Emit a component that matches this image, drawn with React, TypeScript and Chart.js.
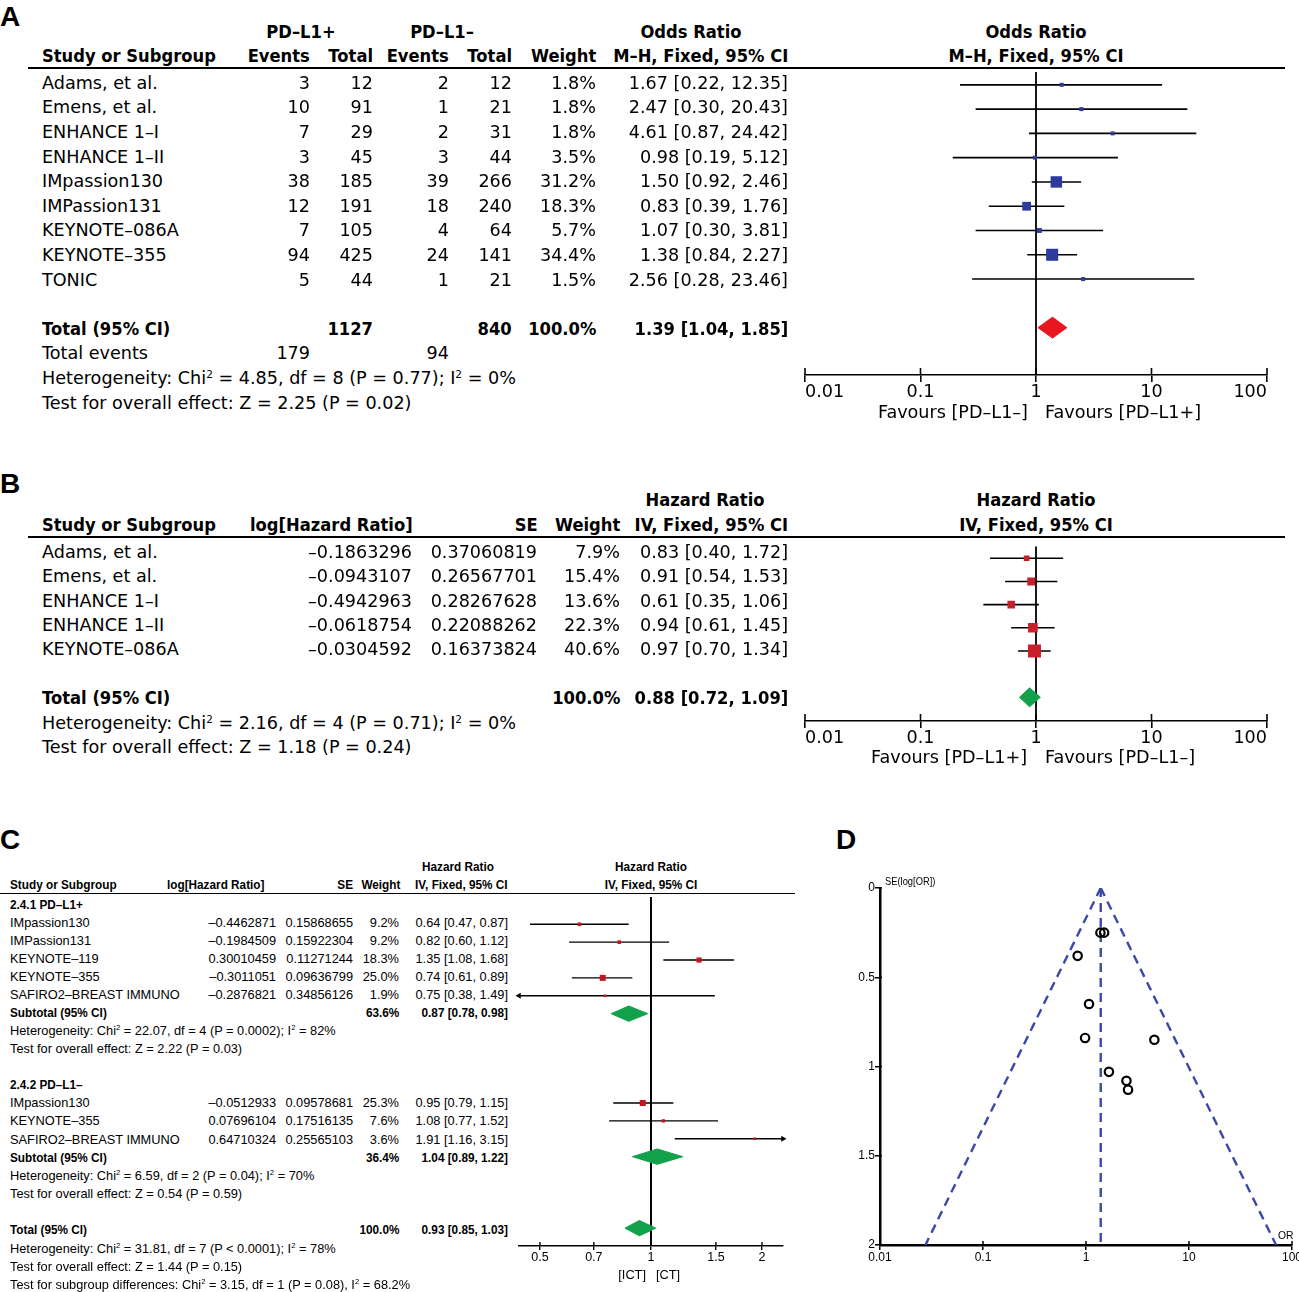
import React, { useEffect, useRef } from 'react';
import { Chart, registerables } from 'chart.js';
Chart.register(...registerables);

// ---------------- Panel A data (PD-L1+ vs PD-L1-, odds ratio) ----------------
const studiesA = ['Adams, et al.', 'Emens, et al.', 'ENHANCE 1–I', 'ENHANCE 1–II', 'IMpassion130', 'IMPassion131', 'KEYNOTE–086A', 'KEYNOTE–355', 'TONIC'];
const eventsPosA = [3, 10, 7, 3, 38, 12, 7, 94, 5];
const totalPosA = [12, 91, 29, 45, 185, 191, 105, 425, 44];
const eventsNegA = [2, 1, 2, 3, 39, 18, 4, 24, 1];
const totalNegA = [12, 21, 31, 44, 266, 240, 64, 141, 21];
const weightA = [1.8, 1.8, 1.8, 3.5, 31.2, 18.3, 5.7, 34.4, 1.5];
const orA = [1.67, 2.47, 4.61, 0.98, 1.5, 0.83, 1.07, 1.38, 2.56];
const loA = [0.22, 0.3, 0.87, 0.19, 0.92, 0.39, 0.3, 0.84, 0.28];
const hiA = [12.35, 20.43, 24.42, 5.12, 2.46, 1.76, 3.81, 2.27, 23.46];
const pooledA = [1.39, 1.04, 1.85];

// ---------------- Panel B data (hazard ratio) ----------------
const studiesB = ['Adams, et al.', 'Emens, et al.', 'ENHANCE 1–I', 'ENHANCE 1–II', 'KEYNOTE–086A'];
const logHrB = [-0.1863296, -0.0943107, -0.4942963, -0.0618754, -0.0304592];
const seB = [0.37060819, 0.26567701, 0.28267628, 0.22088262, 0.16373824];
const weightB = [7.9, 15.4, 13.6, 22.3, 40.6];
const hrB = [0.83, 0.91, 0.61, 0.94, 0.97];
const loB = [0.4, 0.54, 0.35, 0.61, 0.7];
const hiB = [1.72, 1.53, 1.06, 1.45, 1.34];
const pooledB = [0.88, 0.72, 1.09];

// ---------------- Panel C data (subgroups) ----------------
const studiesC1 = ['IMpassion130', 'IMPassion131', 'KEYNOTE–119', 'KEYNOTE–355', 'SAFIRO2–BREAST IMMUNO'];
const logHrC1 = [-0.4462871, -0.1984509, 0.30010459, -0.3011051, -0.2876821];
const seC1 = [0.15868655, 0.15922304, 0.11271244, 0.09636799, 0.34856126];
const weightC1 = [9.2, 9.2, 18.3, 25.0, 1.9];
const hrC1 = [0.64, 0.82, 1.35, 0.74, 0.75];
const loC1 = [0.47, 0.6, 1.08, 0.61, 0.38];
const hiC1 = [0.87, 1.12, 1.68, 0.89, 1.49];
const subC1 = [0.87, 0.78, 0.98];
const subWeightC1 = 63.6;
const studiesC2 = ['IMpassion130', 'KEYNOTE–355', 'SAFIRO2–BREAST IMMUNO'];
const logHrC2 = [-0.0512933, 0.07696104, 0.64710324];
const seC2 = [0.09578681, 0.17516135, 0.25565103];
const weightC2 = [25.3, 7.6, 3.6];
const hrC2 = [0.95, 1.08, 1.91];
const loC2 = [0.79, 0.77, 1.16];
const hiC2 = [1.15, 1.52, 3.15];
const subC2 = [1.04, 0.89, 1.22];
const subWeightC2 = 36.4;
const pooledC = [0.93, 0.85, 1.03];
const ticksC = [0.5, 0.7, 1, 1.5, 2];
const rangeC = [0.4387, 2.28];

// ---------------- Panel D data (funnel plot) ----------------
const funnelOR = [1.67, 2.47, 4.61, 0.98, 1.5, 0.83, 1.07, 1.38, 2.56];
const funnelSE = [1.03, 1.08, 0.85, 0.84, 0.25, 0.38, 0.65, 0.25, 1.13];
const funnelEdges = [0.0276, 70];
const seTicks = [0, 0.5, 1, 1.5, 2];
const orTicks = [0.01, 0.1, 1, 10, 100];

// ---------------- layout helpers ----------------
const W = 1299;
const H = 1292;
type FontSpec = { family: string; size: number; sx: number; bsx: number };
const FA: FontSpec = { family: '"DejaVu Sans", sans-serif', size: 17.6, sx: 1, bsx: 0.93 };
const FC: FontSpec = { family: '"Liberation Sans", Arial, sans-serif', size: 12.8, sx: 1, bsx: 0.92 };
const FL: FontSpec = { family: '"Liberation Sans", Arial, sans-serif', size: 28, sx: 1, bsx: 1 };
const FD: FontSpec = { family: '"Liberation Sans", Arial, sans-serif', size: 11, sx: 0.85, bsx: 1 };

const rowA = (i: number) => 81 + 24.6 * i;
const rowB = (i: number) => 549.7 + 24.4 * i;
const rowC = (i: number) => 902.5 + 18.08 * i;

const f2 = (v: number) => v.toFixed(2);
const ciTxt = (e: number, l: number, h: number) => `${f2(e)} [${f2(l)}, ${f2(h)}]`;
const numTxt = (v: number) => String(v).replace('-', '–');
const pct = (v: number) => `${v.toFixed(1)}%`;
const sum = (a: number[]) => a.reduce((s, v) => s + v, 0);

function Txt({ x, y, f, a = 'l', b = false, children }: { x: number; y: number; f: FontSpec; a?: 'l' | 'r' | 'c'; b?: boolean; children: React.ReactNode }) {
  const sx = b ? f.bsx : f.sx;
  const lh = Math.round(f.size * 1.3);
  const st: React.CSSProperties = {
    position: 'absolute', top: y - lh / 2, height: lh, lineHeight: `${lh}px`, fontFamily: f.family,
    fontSize: f.size, fontWeight: b ? 700 : 400, whiteSpace: 'nowrap', color: '#000',
  };
  if (a === 'l') { st.left = x; st.transformOrigin = '0 50%'; if (sx !== 1) st.transform = `scaleX(${sx})`; }
  else if (a === 'r') { st.right = W - x; st.transformOrigin = '100% 50%'; if (sx !== 1) st.transform = `scaleX(${sx})`; }
  else { st.left = x; st.transform = `translateX(-50%) scaleX(${sx})`; }
  return <div style={st}>{children}</div>;
}

const Sup = () => <sup style={{ fontSize: '0.6em', lineHeight: 0, verticalAlign: '0.6em' }}>2</sup>;

function Rule({ x1, x2, y, w }: { x1: number; x2: number; y: number; w: number }) {
  return <div style={{ position: 'absolute', left: x1, top: y - w / 2, width: x2 - x1, height: w, background: '#000' }} />;
}

function crossTicks(xUp: number, yRight: number, w: number) {
  return {
    id: 'crossTicks',
    afterDraw(chart: any) {
      const { ctx, chartArea } = chart;
      const sx = chart.scales.x;
      const sy = chart.scales.y;
      ctx.save();
      ctx.strokeStyle = '#000';
      ctx.lineWidth = w;
      if (xUp > 0) {
        for (const t of sx.ticks) {
          const p = sx.getPixelForValue(t.value);
          ctx.beginPath(); ctx.moveTo(p, chartArea.bottom); ctx.lineTo(p, chartArea.bottom - xUp); ctx.stroke();
        }
      }
      if (yRight > 0 && sy.options.display) {
        for (const t of sy.ticks) {
          const p = sy.getPixelForValue(t.value);
          ctx.beginPath(); ctx.moveTo(chartArea.left, p); ctx.lineTo(chartArea.left + yRight, p); ctx.stroke();
        }
      }
      ctx.restore();
    },
  };
}

type Diamond = { est: number; lo: number; hi: number; row: number };
interface ForestCfg {
  xMin: number; xMax: number; ticks: number[]; tickAlign: 'inner' | 'center';
  yMin: number; yMax: number;
  rows: number[]; est: number[]; lo: number[]; hi: number[]; sides: number[];
  sqColor: string; diamonds: Diamond[]; dColor: string; dHalf: number;
  lineW: number; vW: number; font: { family: string; size: number };
  tickLen: number; upLen: number; axisH: number; padL: number; padR: number; arrowR: number;
}

function makeForest(canvas: HTMLCanvasElement, c: ForestCfg) {
  const datasets: any[] = [];
  datasets.push({
    data: c.est.map((e, i) => ({ x: e, y: c.rows[i] })), showLine: false, pointStyle: 'rect',
    pointRadius: c.sides.map((s) => s / Math.SQRT2), pointBackgroundColor: c.sqColor, pointBorderWidth: 0,
  });
  for (const d of c.diamonds) {
    datasets.push({
      data: [
        { x: d.lo, y: d.row }, { x: d.est, y: d.row - c.dHalf }, { x: d.hi, y: d.row },
        { x: d.est, y: d.row + c.dHalf }, { x: d.lo, y: d.row },
      ],
      showLine: true, fill: 'shape', backgroundColor: c.dColor, borderColor: c.dColor, borderWidth: 1, pointRadius: 0,
    });
  }
  c.rows.forEach((r, i) => {
    if (c.lo[i] < c.xMin) {
      datasets.push({ data: [{ x: c.xMin, y: r }], showLine: false, pointStyle: 'triangle', rotation: -90, pointRadius: c.arrowR, pointBackgroundColor: '#000', pointBorderWidth: 0, clip: false });
    }
    if (c.hi[i] > c.xMax) {
      datasets.push({ data: [{ x: c.xMax, y: r }], showLine: false, pointStyle: 'triangle', rotation: 90, pointRadius: c.arrowR, pointBackgroundColor: '#000', pointBorderWidth: 0, clip: false });
    }
  });
  c.rows.forEach((r, i) => {
    datasets.push({
      data: [{ x: Math.max(c.lo[i], c.xMin), y: r }, { x: Math.min(c.hi[i], c.xMax), y: r }],
      borderColor: '#000', borderWidth: c.lineW, pointRadius: 0, fill: false,
    });
  });
  datasets.push({ data: [{ x: 1, y: c.yMin }, { x: 1, y: c.yMax }], borderColor: '#000', borderWidth: c.vW, pointRadius: 0, fill: false });

  return new Chart(canvas, {
    type: 'line',
    data: { datasets },
    options: {
      animation: false, responsive: false, events: [],
      layout: { padding: { left: c.padL, right: c.padR, top: 0, bottom: 0 } },
      plugins: { legend: { display: false }, tooltip: { enabled: false } },
      scales: {
        x: {
          type: 'logarithmic', min: c.xMin, max: c.xMax,
          afterBuildTicks: (s: any) => { s.ticks = c.ticks.map((v) => ({ value: v })); },
          afterFit: (s: any) => { s.height = c.axisH; },
          ticks: { autoSkip: false, maxRotation: 0, minRotation: 0, padding: 0, align: c.tickAlign, color: '#000', font: c.font, callback: (v: any) => String(v) },
          grid: { display: true, drawOnChartArea: false, drawTicks: true, tickLength: c.tickLen, color: '#000', lineWidth: c.lineW },
          border: { display: true, color: '#000', width: c.lineW },
        },
        y: { type: 'linear', display: false, min: c.yMin, max: c.yMax, reverse: true },
      },
    } as any,
    plugins: [crossTicks(c.upLen, 0, c.lineW)],
  });
}

function makeFunnel(canvas: HTMLCanvasElement) {
  const blue = '#3a48a8';
  const dash = { borderColor: blue, borderWidth: 2.4, borderDash: [9, 6], pointRadius: 0, fill: false };
  const seMax = seTicks[seTicks.length - 1];
  const pooled = pooledA[0];
  const tickFont = { family: '"Liberation Sans", Arial, sans-serif', size: 12 };
  return new Chart(canvas, {
    type: 'line',
    data: {
      datasets: [
        { data: funnelOR.map((v, i) => ({ x: v, y: funnelSE[i] })), showLine: false, pointStyle: 'circle', pointRadius: 4.2, pointBorderWidth: 2.2, pointBorderColor: '#000', pointBackgroundColor: 'rgba(0,0,0,0)' },
        { data: [{ x: pooled, y: 0 }, { x: funnelEdges[0], y: seMax }], ...dash },
        { data: [{ x: pooled, y: 0 }, { x: funnelEdges[1], y: seMax }], ...dash },
        { data: [{ x: pooled, y: 0 }, { x: pooled, y: seMax }], ...dash },
      ],
    },
    options: {
      animation: false, responsive: false, events: [],
      layout: { padding: { left: 0, right: 20, top: 12, bottom: 0 } },
      plugins: { legend: { display: false }, tooltip: { enabled: false } },
      scales: {
        x: {
          type: 'logarithmic', min: orTicks[0], max: orTicks[orTicks.length - 1],
          afterBuildTicks: (s: any) => { s.ticks = orTicks.map((v) => ({ value: v })); },
          afterFit: (s: any) => { s.height = 30; },
          ticks: { autoSkip: false, maxRotation: 0, padding: 0, color: '#000', font: tickFont, callback: (v: any) => String(v) },
          grid: { drawOnChartArea: false, tickLength: 5, color: '#000', lineWidth: 1.5 },
          border: { display: true, color: '#000', width: 2.5 },
        },
        y: {
          type: 'linear', min: seTicks[0], max: seMax, reverse: true,
          afterBuildTicks: (s: any) => { s.ticks = seTicks.map((v) => ({ value: v })); },
          afterFit: (s: any) => { s.width = 32; },
          ticks: { autoSkip: false, padding: 0, color: '#000', font: tickFont, callback: (v: any) => String(v) },
          grid: { drawOnChartArea: false, tickLength: 5, color: '#000', lineWidth: 1.5 },
          border: { display: true, color: '#000', width: 2.5 },
        },
      },
    } as any,
    plugins: [crossTicks(4, 2, 1.5)],
  });
}

function ChartBox({ left, top, width, height, make }: { left: number; top: number; width: number; height: number; make: (c: HTMLCanvasElement) => Chart }) {
  const ref = useRef<HTMLCanvasElement>(null);
  useEffect(() => {
    const ch = make(ref.current as HTMLCanvasElement);
    return () => ch.destroy();
  }, []);
  return (
    <div style={{ position: 'absolute', left, top, width, height }}>
      <canvas ref={ref} width={width} height={height} style={{ width, height, display: 'block' }} />
    </div>
  );
}

const fontA = { family: '"DejaVu Sans", sans-serif', size: 17.6 };

function chartA(canvas: HTMLCanvasElement) {
  const top = 68, bottom = 375;
  return makeForest(canvas, {
    xMin: orTicks[0], xMax: orTicks[4], ticks: orTicks, tickAlign: 'inner',
    yMin: (top - rowA(0)) / 24.6, yMax: (bottom - rowA(0)) / 24.6,
    rows: studiesA.map((_, i) => i), est: orA, lo: loA, hi: hiA,
    sides: weightA.map((w) => Math.max(4, 2.05 * Math.sqrt(w))),
    sqColor: '#2b3c9e', diamonds: [{ est: pooledA[0], lo: pooledA[1], hi: pooledA[2], row: 10 }], dColor: '#e8161e', dHalf: 0.43,
    lineW: 1.6, vW: 1.8, font: fontA, tickLen: 7, upLen: 7, axisH: 40, padL: 40, padR: 32, arrowR: 4,
  });
}

function chartB(canvas: HTMLCanvasElement) {
  const top = 537, bottom = 721;
  return makeForest(canvas, {
    xMin: orTicks[0], xMax: orTicks[4], ticks: orTicks, tickAlign: 'inner',
    yMin: (top - rowB(0)) / 24.4, yMax: (bottom - rowB(0)) / 24.4,
    rows: studiesB.map((_, i) => i), est: hrB, lo: loB, hi: hiB,
    sides: weightB.map((w) => Math.max(4.5, 2.04 * Math.sqrt(w))),
    sqColor: '#c8202a', diamonds: [{ est: pooledB[0], lo: pooledB[1], hi: pooledB[2], row: 6 }], dColor: '#13a04a', dHalf: 0.41,
    lineW: 1.6, vW: 1.8, font: fontA, tickLen: 7, upLen: 7, axisH: 40, padL: 40, padR: 32, arrowR: 4,
  });
}

function chartC(canvas: HTMLCanvasElement) {
  const top = 893, bottom = 1246;
  const rows1 = studiesC1.map((_, i) => i + 1);
  const rows2 = studiesC2.map((_, i) => i + 11);
  return makeForest(canvas, {
    xMin: rangeC[0], xMax: rangeC[1], ticks: ticksC, tickAlign: 'center',
    yMin: (top - rowC(0)) / 18.08, yMax: (bottom - rowC(0)) / 18.08,
    rows: [...rows1, ...rows2], est: [...hrC1, ...hrC2], lo: [...loC1, ...loC2], hi: [...hiC1, ...hiC2],
    sides: [...weightC1, ...weightC2].map((w) => Math.max(2.6, 1.2 * Math.sqrt(w))),
    sqColor: '#c4161c',
    diamonds: [
      { est: subC1[0], lo: subC1[1], hi: subC1[2], row: 6 },
      { est: subC2[0], lo: subC2[1], hi: subC2[2], row: 14 },
      { est: pooledC[0], lo: pooledC[1], hi: pooledC[2], row: 18 },
    ],
    dColor: '#12a04a', dHalf: 0.43,
    lineW: 1.4, vW: 2, font: { family: '"Liberation Sans", Arial, sans-serif', size: 12.5 }, tickLen: 4, upLen: 4, axisH: 30, padL: 10, padR: 10, arrowR: 3.5,
  });
}

export default function App() {
  const tA = (i: number) => rowA(i) + 2.3;
  const tB = (i: number) => rowB(i) + 2.5;
  const tC = (i: number) => rowC(i) + 1.5;
  return (
    <div style={{ position: 'absolute', left: 0, top: 0, width: W, height: H, overflow: 'hidden', background: '#fff' }}>
      <ChartBox left={765} top={68} width={534} height={347} make={chartA} />
      <ChartBox left={765} top={537} width={534} height={224} make={chartB} />
      <ChartBox left={509} top={893} width={284} height={383} make={chartC} />
      <ChartBox left={848} top={876} width={464} height={399} make={makeFunnel} />

      {/* Panel labels */}
      <Txt x={0} y={17} f={FL} b>A</Txt>
      <Txt x={0} y={484} f={FL} b>B</Txt>
      <Txt x={0} y={840} f={FL} b>C</Txt>
      <Txt x={836} y={840} f={FL} b>D</Txt>

      {/* ---------- Panel A table ---------- */}
      <Txt x={301} y={32} f={FA} a="c" b>PD–L1+</Txt>
      <Txt x={442} y={32} f={FA} a="c" b>PD–L1–</Txt>
      <Txt x={691} y={32} f={FA} a="c" b>Odds Ratio</Txt>
      <Txt x={1036} y={32} f={FA} a="c" b>Odds Ratio</Txt>
      <Txt x={42} y={56.5} f={FA} b>Study or Subgroup</Txt>
      <Txt x={310} y={56.5} f={FA} a="r" b>Events</Txt>
      <Txt x={373} y={56.5} f={FA} a="r" b>Total</Txt>
      <Txt x={449} y={56.5} f={FA} a="r" b>Events</Txt>
      <Txt x={512} y={56.5} f={FA} a="r" b>Total</Txt>
      <Txt x={596} y={56.5} f={FA} a="r" b>Weight</Txt>
      <Txt x={788} y={56.5} f={FA} a="r" b>M–H, Fixed, 95% CI</Txt>
      <Txt x={1036} y={56.5} f={FA} a="c" b>M–H, Fixed, 95% CI</Txt>
      <Rule x1={28} x2={1285} y={68.3} w={2} />
      {studiesA.map((s, i) => (
        <React.Fragment key={'a' + i}>
          <Txt x={42} y={tA(i)} f={FA}>{s}</Txt>
          <Txt x={310} y={tA(i)} f={FA} a="r">{eventsPosA[i]}</Txt>
          <Txt x={373} y={tA(i)} f={FA} a="r">{totalPosA[i]}</Txt>
          <Txt x={449} y={tA(i)} f={FA} a="r">{eventsNegA[i]}</Txt>
          <Txt x={512} y={tA(i)} f={FA} a="r">{totalNegA[i]}</Txt>
          <Txt x={596} y={tA(i)} f={FA} a="r">{pct(weightA[i])}</Txt>
          <Txt x={788} y={tA(i)} f={FA} a="r">{ciTxt(orA[i], loA[i], hiA[i])}</Txt>
        </React.Fragment>
      ))}
      <Txt x={42} y={tA(10)} f={FA} b>Total (95% CI)</Txt>
      <Txt x={373} y={tA(10)} f={FA} a="r" b>{sum(totalPosA)}</Txt>
      <Txt x={512} y={tA(10)} f={FA} a="r" b>{sum(totalNegA)}</Txt>
      <Txt x={596} y={tA(10)} f={FA} a="r" b>100.0%</Txt>
      <Txt x={788} y={tA(10)} f={FA} a="r" b>{ciTxt(pooledA[0], pooledA[1], pooledA[2])}</Txt>
      <Txt x={42} y={tA(11)} f={FA}>Total events</Txt>
      <Txt x={310} y={tA(11)} f={FA} a="r">{sum(eventsPosA)}</Txt>
      <Txt x={449} y={tA(11)} f={FA} a="r">{sum(eventsNegA)}</Txt>
      <Txt x={42} y={tA(12)} f={FA}>Heterogeneity: Chi<Sup /> = 4.85, df = 8 (P = 0.77); I<Sup /> = 0%</Txt>
      <Txt x={42} y={tA(13)} f={FA}>Test for overall effect: Z = 2.25 (P = 0.02)</Txt>
      <Txt x={1028} y={412} f={FA} a="r">Favours [PD–L1–]</Txt>
      <Txt x={1045} y={412} f={FA}>Favours [PD–L1+]</Txt>

      {/* ---------- Panel B table ---------- */}
      <Txt x={705} y={500.5} f={FA} a="c" b>Hazard Ratio</Txt>
      <Txt x={1036} y={500.5} f={FA} a="c" b>Hazard Ratio</Txt>
      <Txt x={42} y={525.5} f={FA} b>Study or Subgroup</Txt>
      <Txt x={250} y={525.5} f={FA} b>log[Hazard Ratio]</Txt>
      <Txt x={538} y={525.5} f={FA} a="r" b>SE</Txt>
      <Txt x={620} y={525.5} f={FA} a="r" b>Weight</Txt>
      <Txt x={788} y={525.5} f={FA} a="r" b>IV, Fixed, 95% CI</Txt>
      <Txt x={1036} y={525.5} f={FA} a="c" b>IV, Fixed, 95% CI</Txt>
      <Rule x1={28} x2={1285} y={537.3} w={2} />
      {studiesB.map((s, i) => (
        <React.Fragment key={'b' + i}>
          <Txt x={42} y={tB(i)} f={FA}>{s}</Txt>
          <Txt x={412} y={tB(i)} f={FA} a="r">{numTxt(logHrB[i])}</Txt>
          <Txt x={537} y={tB(i)} f={FA} a="r">{numTxt(seB[i])}</Txt>
          <Txt x={620} y={tB(i)} f={FA} a="r">{pct(weightB[i])}</Txt>
          <Txt x={788} y={tB(i)} f={FA} a="r">{ciTxt(hrB[i], loB[i], hiB[i])}</Txt>
        </React.Fragment>
      ))}
      <Txt x={42} y={tB(6)} f={FA} b>Total (95% CI)</Txt>
      <Txt x={620} y={tB(6)} f={FA} a="r" b>100.0%</Txt>
      <Txt x={788} y={tB(6)} f={FA} a="r" b>{ciTxt(pooledB[0], pooledB[1], pooledB[2])}</Txt>
      <Txt x={42} y={tB(7)} f={FA}>Heterogeneity: Chi<Sup /> = 2.16, df = 4 (P = 0.71); I<Sup /> = 0%</Txt>
      <Txt x={42} y={tB(8)} f={FA}>Test for overall effect: Z = 1.18 (P = 0.24)</Txt>
      <Txt x={1027} y={757} f={FA} a="r">Favours [PD–L1+]</Txt>
      <Txt x={1045} y={757} f={FA}>Favours [PD–L1–]</Txt>

      {/* ---------- Panel C table ---------- */}
      <Txt x={457.5} y={866} f={FC} a="c" b>Hazard Ratio</Txt>
      <Txt x={651} y={866} f={FC} a="c" b>Hazard Ratio</Txt>
      <Txt x={10} y={884} f={FC} b>Study or Subgroup</Txt>
      <Txt x={167} y={884} f={FC} b>log[Hazard Ratio]</Txt>
      <Txt x={353} y={884} f={FC} a="r" b>SE</Txt>
      <Txt x={400} y={884} f={FC} a="r" b>Weight</Txt>
      <Txt x={508} y={884} f={FC} a="r" b>IV, Fixed, 95% CI</Txt>
      <Txt x={651} y={884} f={FC} a="c" b>IV, Fixed, 95% CI</Txt>
      <Rule x1={0} x2={795} y={893.3} w={1.6} />
      <Txt x={10} y={tC(0)} f={FC} b>2.4.1 PD–L1+</Txt>
      {studiesC1.map((s, i) => (
        <React.Fragment key={'c1' + i}>
          <Txt x={10} y={tC(i + 1)} f={FC}>{s}</Txt>
          <Txt x={276} y={tC(i + 1)} f={FC} a="r">{numTxt(logHrC1[i])}</Txt>
          <Txt x={353} y={tC(i + 1)} f={FC} a="r">{numTxt(seC1[i])}</Txt>
          <Txt x={399} y={tC(i + 1)} f={FC} a="r">{pct(weightC1[i])}</Txt>
          <Txt x={508} y={tC(i + 1)} f={FC} a="r">{ciTxt(hrC1[i], loC1[i], hiC1[i])}</Txt>
        </React.Fragment>
      ))}
      <Txt x={10} y={tC(6)} f={FC} b>Subtotal (95% CI)</Txt>
      <Txt x={399} y={tC(6)} f={FC} a="r" b>{pct(subWeightC1)}</Txt>
      <Txt x={508} y={tC(6)} f={FC} a="r" b>{ciTxt(subC1[0], subC1[1], subC1[2])}</Txt>
      <Txt x={10} y={tC(7)} f={FC}>Heterogeneity: Chi<Sup /> = 22.07, df = 4 (P = 0.0002); I<Sup /> = 82%</Txt>
      <Txt x={10} y={tC(8)} f={FC}>Test for overall effect: Z = 2.22 (P = 0.03)</Txt>
      <Txt x={10} y={tC(10)} f={FC} b>2.4.2 PD–L1–</Txt>
      {studiesC2.map((s, i) => (
        <React.Fragment key={'c2' + i}>
          <Txt x={10} y={tC(i + 11)} f={FC}>{s}</Txt>
          <Txt x={276} y={tC(i + 11)} f={FC} a="r">{numTxt(logHrC2[i])}</Txt>
          <Txt x={353} y={tC(i + 11)} f={FC} a="r">{numTxt(seC2[i])}</Txt>
          <Txt x={399} y={tC(i + 11)} f={FC} a="r">{pct(weightC2[i])}</Txt>
          <Txt x={508} y={tC(i + 11)} f={FC} a="r">{ciTxt(hrC2[i], loC2[i], hiC2[i])}</Txt>
        </React.Fragment>
      ))}
      <Txt x={10} y={tC(14)} f={FC} b>Subtotal (95% CI)</Txt>
      <Txt x={399} y={tC(14)} f={FC} a="r" b>{pct(subWeightC2)}</Txt>
      <Txt x={508} y={tC(14)} f={FC} a="r" b>{ciTxt(subC2[0], subC2[1], subC2[2])}</Txt>
      <Txt x={10} y={tC(15)} f={FC}>Heterogeneity: Chi<Sup /> = 6.59, df = 2 (P = 0.04); I<Sup /> = 70%</Txt>
      <Txt x={10} y={tC(16)} f={FC}>Test for overall effect: Z = 0.54 (P = 0.59)</Txt>
      <Txt x={10} y={tC(18)} f={FC} b>Total (95% CI)</Txt>
      <Txt x={399} y={tC(18)} f={FC} a="r" b>100.0%</Txt>
      <Txt x={508} y={tC(18)} f={FC} a="r" b>{ciTxt(pooledC[0], pooledC[1], pooledC[2])}</Txt>
      <Txt x={10} y={tC(19) + 1} f={FC}>Heterogeneity: Chi<Sup /> = 31.81, df = 7 (P &lt; 0.0001); I<Sup /> = 78%</Txt>
      <Txt x={10} y={tC(20) + 1} f={FC}>Test for overall effect: Z = 1.44 (P = 0.15)</Txt>
      <Txt x={10} y={tC(21) + 1} f={FC}>Test for subgroup differences: Chi<Sup /> = 3.15, df = 1 (P = 0.08), I<Sup /> = 68.2%</Txt>
      <Txt x={646} y={1274} f={FC} a="r">[ICT]</Txt>
      <Txt x={656} y={1274} f={FC}>[CT]</Txt>

      {/* ---------- Panel D labels ---------- */}
      <Txt x={885} y={881} f={FD}>SE(log[OR])</Txt>
      <Txt x={1278} y={1235} f={{ ...FD, size: 11.5, sx: 0.9 }}>OR</Txt>
    </div>
  );
}
